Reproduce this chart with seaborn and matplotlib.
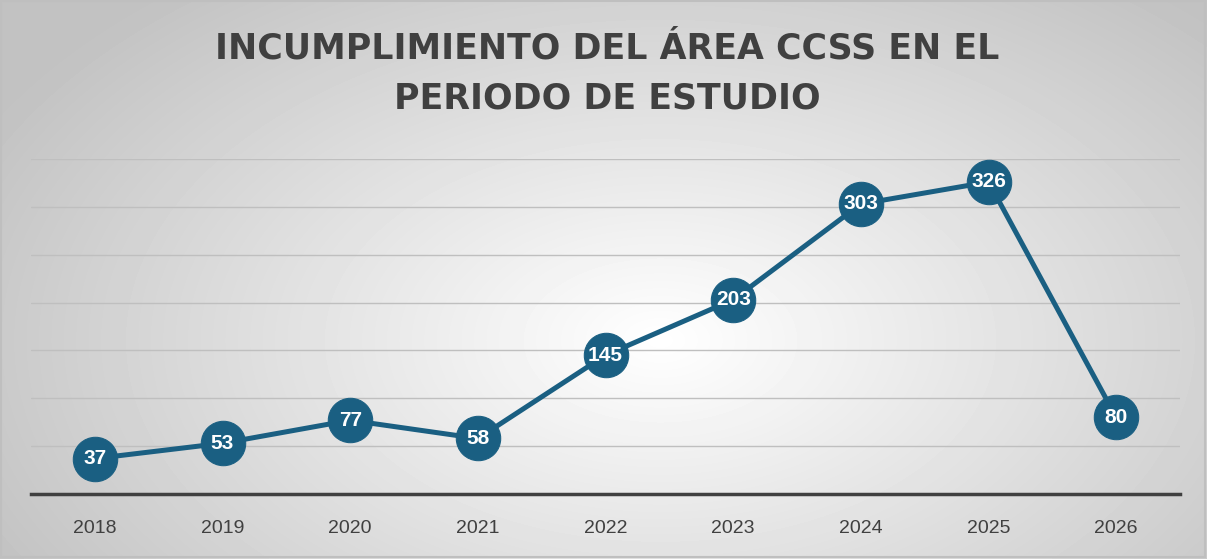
import numpy as np
import pandas as pd
import matplotlib
matplotlib.use('Agg')
import matplotlib.pyplot as plt
import seaborn as sns

# chart data
years = ['2018', '2019', '2020', '2021', '2022', '2023', '2024', '2025', '2026']
incumplimientos = [37, 53, 77, 58, 145, 203, 303, 326, 80]
title = 'INCUMPLIMIENTO DEL ÁREA CCSS EN EL\nPERIODO DE ESTUDIO'

line_color = '#1A5F82'
text_color = '#404040'

sns.set_theme(style='white')
plt.rcParams['font.family'] = ['Liberation Sans', 'DejaVu Sans']

df = pd.DataFrame({'anio': years, 'valor': incumplimientos})

fig = plt.figure(figsize=(12.07, 5.59), dpi=100)

# radial gradient background
bg = fig.add_axes([0, 0, 1, 1], zorder=0)
w, h = 1207, 559
xx, yy = np.meshgrid(np.arange(w), np.arange(h))
r = np.sqrt(((xx - 660) / 700.0) ** 2 + ((yy - 340) / 420.0) ** 2)
shade = np.clip(1.0 - 0.22 * r, 0.76, 1.0)
bg.imshow(shade, cmap='gray', vmin=0, vmax=1, aspect='auto',
          extent=[0, w, h, 0])
bg.add_patch(plt.Rectangle((1, 1), w - 3, h - 3, fill=False,
                           edgecolor='#BFBFBF', linewidth=1.5))
bg.set_xlim(0, w)
bg.set_ylim(h, 0)
bg.axis('off')

ax = fig.add_axes([0.0257, 0.1163, 0.952, 0.5993], zorder=1)
ax.set_facecolor('none')

sns.lineplot(data=df, x='anio', y='valor', ax=ax, color=line_color,
             linewidth=3.6, marker='o', markersize=32,
             markeredgecolor=line_color, markerfacecolor=line_color,
             sort=False)

for i, v in enumerate(incumplimientos):
    ax.text(i, v, str(v), ha='center', va='center', color='white',
            fontsize=15, fontweight='bold', zorder=5)

ax.set_xlim(-0.5, len(years) - 0.5)
ax.set_ylim(0, 350)
ax.set_yticks(np.arange(0, 351, 50))
ax.yaxis.grid(True, color='#BFBFBF', linewidth=1)
ax.set_axisbelow(True)
ax.set_yticklabels([])
ax.tick_params(axis='y', length=0)
ax.tick_params(axis='x', length=0, labelsize=14, labelcolor=text_color, pad=19)
ax.set_xlabel('')
ax.set_ylabel('')
for side in ['top', 'right', 'left']:
    ax.spines[side].set_visible(False)
ax.spines['bottom'].set_color('#404040')
ax.spines['bottom'].set_linewidth(2.5)

fig.text(0.503, 0.868, title, ha='center', va='center', fontsize=25,
         fontweight='bold', color=text_color, linespacing=1.6,
         family='DejaVu Sans')

fig.savefig('out.png', dpi=100)
